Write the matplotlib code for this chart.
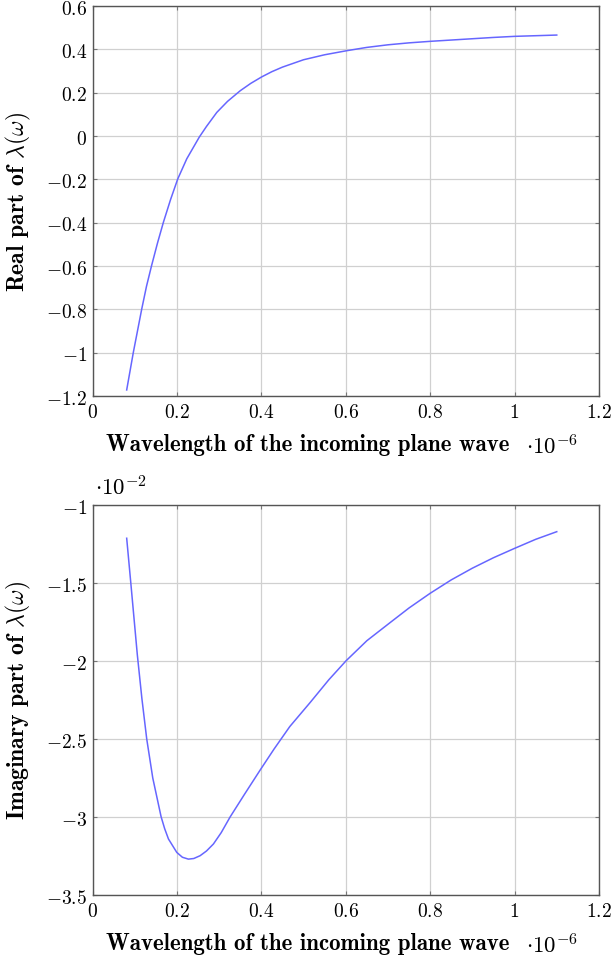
import numpy as np
import matplotlib.pyplot as plt
from matplotlib.ticker import FuncFormatter

plt.rcParams['mathtext.fontset'] = 'cm'

# Wavelength (units of 1e-6 m) and real part of lambda(omega)
wl_real = [0.081, 0.0968, 0.1167, 0.128, 0.140, 0.154, 0.168, 0.185, 0.202, 0.2234, 0.253,
           0.27, 0.2945, 0.32, 0.350, 0.375, 0.401, 0.425, 0.45, 0.5, 0.55, 0.603, 0.65,
           0.7, 0.75, 0.8, 0.85, 0.9, 0.95, 1.0, 1.05, 1.1]
real_part = [-1.172, -0.998, -0.798, -0.693, -0.598, -0.494, -0.398, -0.293, -0.198, -0.105, -0.005,
             0.044, 0.109, 0.160, 0.209, 0.243, 0.273, 0.297, 0.318, 0.352, 0.375, 0.394, 0.409,
             0.421, 0.430, 0.437, 0.443, 0.449, 0.455, 0.460, 0.463, 0.466]

# Wavelength (units of 1e-6 m) and imaginary part of lambda(omega) (units of 1e-2)
wl_imag = [0.081, 0.0906, 0.1062, 0.117, 0.1285, 0.1428, 0.1625, 0.171, 0.180, 0.1997, 0.213,
           0.2272, 0.24, 0.255, 0.27, 0.2865, 0.305, 0.326, 0.36, 0.397, 0.43, 0.4675, 0.516,
           0.56, 0.601, 0.65, 0.706, 0.75, 0.8, 0.85, 0.9, 0.95, 1.0, 1.05, 1.1]
imag_part = [-1.213, -1.495, -1.96, -2.24, -2.50, -2.75, -2.998, -3.075, -3.141, -3.227, -3.258,
             -3.27, -3.266, -3.248, -3.218, -3.173, -3.10, -3.0, -2.855, -2.70, -2.565, -2.42, -2.265,
             -2.12, -1.998, -1.87, -1.752, -1.66, -1.566, -1.48, -1.405, -1.338, -1.278, -1.22, -1.171]

x_ticks = [0, 0.2, 0.4, 0.6, 0.8, 1.0, 1.2]
real_ticks = [-1.2, -1.0, -0.8, -0.6, -0.4, -0.2, 0, 0.2, 0.4, 0.6]
imag_ticks = [-3.5, -3.0, -2.5, -2.0, -1.5, -1.0]

line_color = (0.4, 0.4, 1.0)
label_size = 16.5


def fmt(v, pos):
    s = ('%.1f' % v).rstrip('0').rstrip('.')
    if s in ('-0', ''):
        s = '0'
    return r'$\mathbf{%s}$' % s


def style(ax, ylabel):
    ax.set_xlim(0, 1.2)
    ax.set_xticks(x_ticks)
    ax.xaxis.set_major_formatter(FuncFormatter(fmt))
    ax.yaxis.set_major_formatter(FuncFormatter(fmt))
    ax.grid(True, color='#d0d0d0', linewidth=0.9)
    ax.set_axisbelow(True)
    ax.tick_params(direction='in', length=3, width=0.8, color='#777777',
                   top=True, right=True, labelsize=14, pad=4)
    for sp in ax.spines.values():
        sp.set_color('#555555')
        sp.set_linewidth(1.0)
    ax.set_ylabel(ylabel, family='cmb10', fontsize=17)
    ax.set_xlabel('Wavelength of the incoming plane wave', family='cmb10', fontsize=label_size)
    ax.yaxis.set_label_coords(-0.117, 0.5)
    ax.xaxis.set_label_coords(0.4255, -0.095)
    ax.text(0.856, -0.148, r'$\cdot\mathbf{10}^{-6}$', transform=ax.transAxes,
            fontsize=label_size, va='baseline')


fig = plt.figure(figsize=(6.13, 9.62), dpi=100)

ax1 = fig.add_axes([0.1509, 0.5873, 0.8262, 0.4054])
ax1.plot(wl_real, real_part, color=line_color, linewidth=1.1, solid_joinstyle='round')
ax1.set_ylim(-1.2, 0.6)
ax1.set_yticks(real_ticks)
style(ax1, r'Real part of $\lambda(\omega)$')

ax2 = fig.add_axes([0.1509, 0.0686, 0.8262, 0.4054])
ax2.plot(wl_imag, imag_part, color=line_color, linewidth=1.1, solid_joinstyle='round')
ax2.set_ylim(-3.5, -1.0)
ax2.set_yticks(imag_ticks)
style(ax2, r'Imaginary part of $\lambda(\omega)$')
ax2.text(0.005, 1.028, r'$\cdot\mathbf{10}^{-2}$', transform=ax2.transAxes,
         fontsize=label_size, va='baseline')

fig.savefig('out.png', dpi=100)
